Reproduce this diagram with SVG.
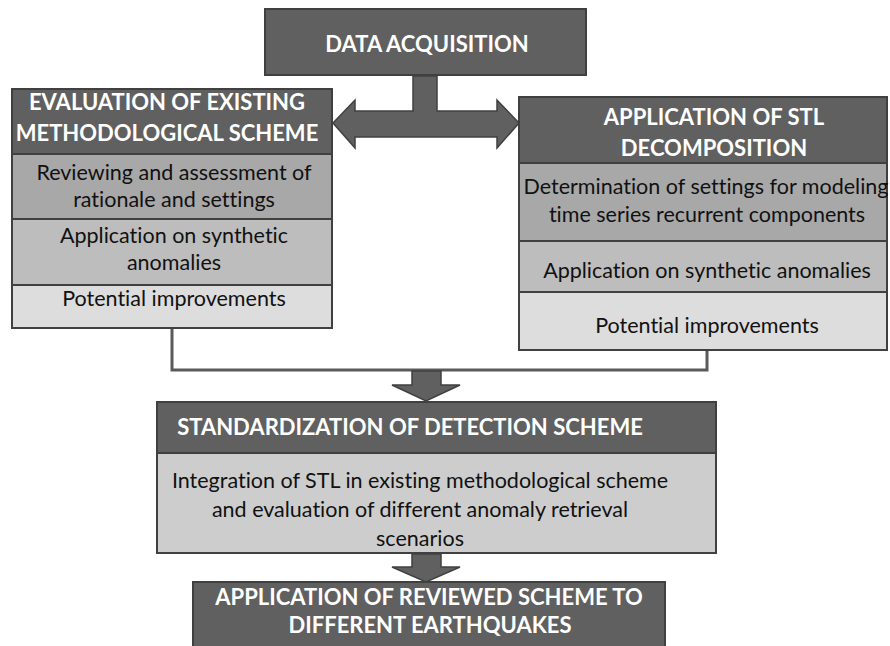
<svg xmlns="http://www.w3.org/2000/svg" width="890" height="646" viewBox="0 0 890 646">
  <style>
    .hdr { fill: #606060; stroke: #404040; stroke-width: 2; }
    .r1 { fill: #a8a8a8; stroke: #404040; stroke-width: 2; }
    .r2 { fill: #bdbdbd; stroke: #404040; stroke-width: 2; }
    .r3 { fill: #dddddd; stroke: #404040; stroke-width: 2; }
    .rm { fill: #cdcdcd; stroke: #404040; stroke-width: 2; }
    text { font-variant-ligatures: none; }
    .ht { font-family: Lato, "Liberation Sans", sans-serif; font-weight: bold; font-size: 22px; fill: #ffffff; text-anchor: middle; }
    .bt { font-family: Lato, "Liberation Sans", sans-serif; font-size: 21.5px; fill: #111111; text-anchor: middle; }
    .arrow { fill: #606060; stroke: #404040; stroke-width: 1.5; stroke-linejoin: miter; }
    .link { fill: none; stroke: #5a5a5a; stroke-width: 3; }
  </style>

  <!-- connectors -->
  <g id="connectors">
    <polygon class="arrow" points="333,123 355,100 355,111 413,111 413,76 437,76 437,111 497,111 497,100 519,123 497,148 497,137 355,137 355,148"/>
    <polyline class="link" points="172,329 172,370 707,370 707,351"/>
    <polygon class="arrow" points="412,371 441,371 441,385 460,385 426,401 392,385 412,385"/>
    <polygon class="arrow" points="412,554 441,554 441,567 460,567 426,582 392,567 412,567"/>
  </g>

  <g id="data-acquisition">
    <rect class="hdr" x="265" y="9" width="321" height="66"/>
    <text class="ht" x="427" y="52">DATA ACQUISITION</text>
  </g>

  <g id="evaluation">
    <rect class="hdr" x="12" y="89" width="320" height="65"/>
    <rect class="r1" x="12" y="154" width="320" height="65"/>
    <rect class="r2" x="12" y="219" width="320" height="66"/>
    <rect class="r3" x="12" y="285" width="320" height="43"/>
    <text class="ht" x="167" y="110">EVALUATION OF EXISTING</text>
    <text class="ht" x="167" y="141">METHODOLOGICAL SCHEME</text>
    <text class="bt" x="174" y="180">Reviewing and assessment of</text>
    <text class="bt" x="174" y="207">rationale and settings</text>
    <text class="bt" x="174" y="243">Application on synthetic</text>
    <text class="bt" x="174" y="270">anomalies</text>
    <text class="bt" x="174" y="306">Potential improvements</text>
  </g>

  <g id="stl">
    <rect class="hdr" x="519" y="97" width="368" height="66"/>
    <rect class="r1" x="519" y="163" width="368" height="78"/>
    <rect class="r2" x="519" y="241" width="368" height="51"/>
    <rect class="r3" x="519" y="292" width="368" height="58"/>
    <text class="ht" x="714" y="125">APPLICATION OF STL</text>
    <text class="ht" x="714" y="156">DECOMPOSITION</text>
    <text class="bt" x="706" y="194">Determination of settings for modeling</text>
    <text class="bt" x="707" y="222">time series recurrent components</text>
    <text class="bt" x="707" y="278">Application on synthetic anomalies</text>
    <text class="bt" x="707" y="333">Potential improvements</text>
  </g>

  <g id="standardization">
    <rect class="hdr" x="157" y="402" width="559" height="51"/>
    <rect class="rm" x="157" y="453" width="559" height="100"/>
    <text class="ht" x="410" y="435">STANDARDIZATION OF DETECTION SCHEME</text>
    <text class="bt" x="420" y="488">Integration of STL in existing methodological scheme</text>
    <text class="bt" x="420" y="517">and evaluation of different anomaly retrieval</text>
    <text class="bt" x="420" y="546">scenarios</text>
  </g>

  <g id="application">
    <rect class="hdr" x="193" y="582" width="472" height="70"/>
    <text class="ht" x="429" y="605">APPLICATION OF REVIEWED SCHEME TO</text>
    <text class="ht" x="430" y="633">DIFFERENT EARTHQUAKES</text>
  </g>
</svg>
